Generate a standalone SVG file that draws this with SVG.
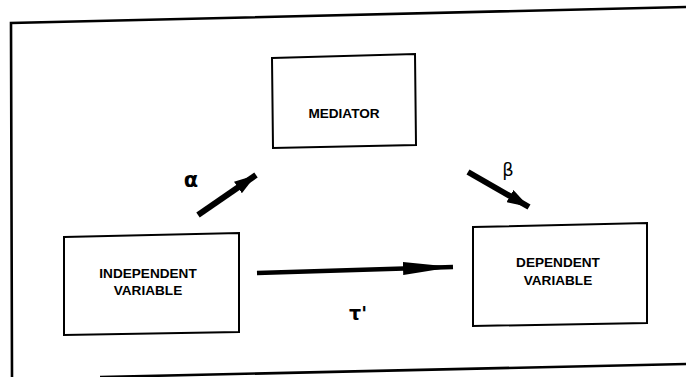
<svg xmlns="http://www.w3.org/2000/svg" width="686" height="377" viewBox="0 0 686 377">
  <style>
    .box { fill: none; stroke: #000; stroke-width: 2; stroke-linejoin: miter; }
    .frame { fill: none; stroke: #000; stroke-width: 2.6; }
    .lbl { font-family: "Liberation Sans", Arial, sans-serif; font-weight: bold; font-size: 13.6px; fill: #000; text-anchor: middle; }
    .greek { font-family: "DejaVu Sans", "Liberation Sans", sans-serif; font-weight: bold; fill: #000; text-anchor: middle; }
    .greek.thin { font-weight: normal; }
    .shaft { stroke: #000; fill: none; stroke-linecap: butt; }
  </style>
  <defs>
    <marker id="headShort" markerUnits="userSpaceOnUse" markerWidth="24" markerHeight="14" refX="22" refY="7" orient="auto">
      <path d="M0,0 L22,7 L0,14 Z" fill="#000"/>
    </marker>
    <marker id="headLong" markerUnits="userSpaceOnUse" markerWidth="52" markerHeight="13" refX="50" refY="6.5" orient="auto">
      <path d="M0,0 L50,6.5 L0,13 Z" fill="#000"/>
    </marker>
  </defs>
  <rect width="686" height="377" fill="#fff"/>

  <!-- page frame -->
  <g id="frame">
    <path class="frame" d="M686,7 L11,23 L12,377"/>
    <path class="frame" d="M100,377 L686,364"/>
  </g>

  <g id="mediator">
    <path class="box" d="M272,58 L415,54 L416,145 L273,148 Z"/>
    <text class="lbl" x="344" y="118">MEDIATOR</text>
  </g>

  <g id="independent">
    <path class="box" d="M64,237 L239,233 L239,332 L64,335 Z"/>
    <text class="lbl" x="148" y="278">INDEPENDENT</text>
    <text class="lbl" x="148" y="295">VARIABLE</text>
  </g>

  <g id="dependent">
    <path class="box" d="M473,227 L647,223 L647,323 L473,326 Z"/>
    <text class="lbl" x="558" y="267">DEPENDENT</text>
    <text class="lbl" x="558" y="285">VARIABLE</text>
  </g>

  <g id="connectors">
    <line class="shaft" x1="198" y1="215" x2="256" y2="175" stroke-width="6" marker-end="url(#headShort)"/>
    <line class="shaft" x1="468" y1="172" x2="529" y2="207" stroke-width="6" marker-end="url(#headShort)"/>
    <line class="shaft" x1="257" y1="273" x2="453" y2="267" stroke-width="4.5" marker-end="url(#headLong)"/>
  </g>

  <g id="labels">
    <text class="greek" x="191" y="187" font-size="21">α</text>
    <text class="greek thin" x="508" y="176" font-size="18">β</text>
    <text class="greek" x="358" y="320" font-size="19">τ'</text>
  </g>
</svg>
